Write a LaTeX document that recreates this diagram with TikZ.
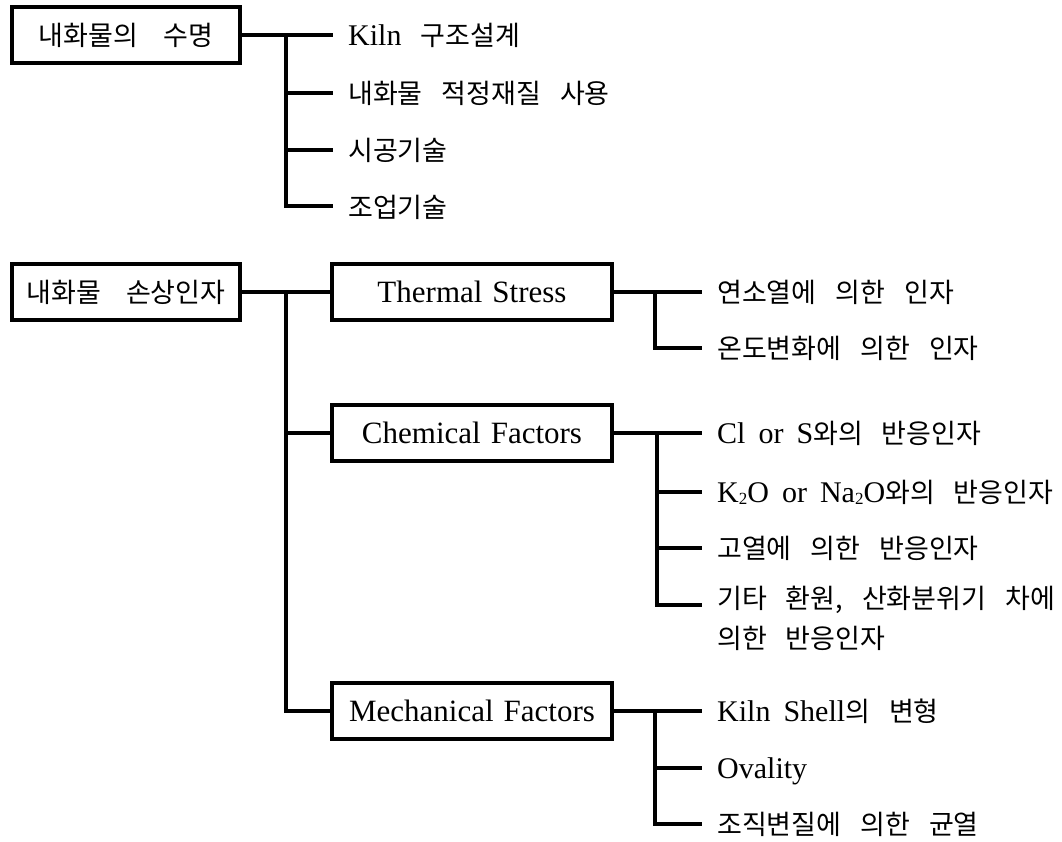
\documentclass[tikz,border=0pt]{standalone}
\usepackage{fontspec}
\setmainfont{Liberation Serif}
\newfontfamily\krfont{Noto Sans CJK KR}
\newfontfamily\latfont{Liberation Serif}
\newcommand{\KR}[1]{{\krfont\fontsize{27pt}{32pt}\selectfont #1}}
\newcommand{\LT}[1]{{\latfont\fontsize{30pt}{34pt}\selectfont #1}}
\newcommand{\LB}[1]{{\latfont\fontsize{31pt}{35pt}\selectfont #1}}
\newcommand{\kgap}{\hspace{19pt}}
\newcommand{\bgap}{\hspace{25pt}}
\newcommand{\lgap}{\hspace{13pt}}
\newcommand{\subtwo}{\raisebox{-2pt}{\fontsize{17pt}{17pt}\selectfont 2}}
\begin{document}
\begin{tikzpicture}[x=1pt,y=-1pt,
  box/.style={draw,line width=3.2pt,rectangle,inner sep=0pt,minimum height=56pt},
  conn/.style={line width=3.2pt,line join=miter},
  leaf/.style={anchor=base west,inner sep=0pt}]
\useasboundingbox[fill=white] (0,0) rectangle (1062,841);

% ---------- top group ----------
\node[box,minimum width=228pt] (life) at (126,35) {\KR{내화물의\bgap 수명}};
\coordinate (a0) at (286,35);
\coordinate (a1) at (286,93);
\coordinate (a2) at (286,150);
\coordinate (a3) at (286,206);
\coordinate (e0) at (333,35);
\coordinate (e1) at (333,93);
\coordinate (e2) at (333,150);
\coordinate (e3) at (333,206);
\node[leaf] (l1) at (348,45) {\LT{Kiln}\kgap\KR{구조설계}};
\node[leaf] (l2) at (348,103) {\KR{내화물\kgap 적정재질\kgap 사용}};
\node[leaf] (l3) at (348,160) {\KR{시공기술}};
\node[leaf] (l4) at (348,217) {\KR{조업기술}};
\draw[conn] (life.east) -- (e0);
\draw[conn] (a0) |- (e3);
\draw[conn] (a1) -- (e1);
\draw[conn] (a2) -- (e2);

% ---------- bottom group ----------
\node[box,minimum width=228pt] (dmg) at (126,292) {\KR{내화물\bgap 손상인자}};
\node[box,minimum width=280pt] (ts) at (472,292) {\LB{Thermal\hspace{10pt}Stress}};
\node[box,minimum width=280pt] (cf) at (472,433) {\LB{Chemical\hspace{10pt}Factors}};
\node[box,minimum width=280pt] (mf) at (472,711) {\LB{Mechanical\hspace{10pt}Factors}};
\coordinate (b0) at (286,292);
\coordinate (b1) at (286,433);
\coordinate (b2) at (286,711);
\draw[conn] (dmg.east) -- (ts.west);
\draw[conn] (b0) |- (mf.west);
\draw[conn] (b1) -- (cf.west);

% Thermal Stress
\coordinate (tj0) at (655,292);
\coordinate (tj1) at (655,348);
\coordinate (te0) at (702,292);
\coordinate (te1) at (702,348);
\node[leaf] (t1) at (717,302) {\KR{연소열에\kgap 의한\kgap 인자}};
\node[leaf] (t2) at (717,358) {\KR{온도변화에\kgap 의한\kgap 인자}};
\draw[conn] (ts.east) -- (te0);
\draw[conn] (tj0) |- (te1);

% Chemical Factors
\coordinate (cj0) at (657,433);
\coordinate (cj1) at (657,492);
\coordinate (cj2) at (657,548);
\coordinate (cj3) at (657,605);
\coordinate (ce0) at (702,433);
\coordinate (ce1) at (702,492);
\coordinate (ce2) at (702,548);
\coordinate (ce3) at (702,605);
\node[leaf] (c1) at (717,443) {\LT{Cl\lgap or\lgap S}\KR{와의\kgap 반응인자}};
\node[leaf] (c2) at (717,502) {\LT{K\subtwo O\lgap or\lgap Na\subtwo O}\KR{와의\kgap 반응인자}};
\node[leaf] (c3) at (717,558) {\KR{고열에\kgap 의한\kgap 반응인자}};
\node[leaf] (c4) at (717,608) {\KR{기타\kgap 환원,\kgap 산화분위기\kgap 차에}};
\node[leaf] (c5) at (717,648) {\KR{의한\kgap 반응인자}};
\draw[conn] (cf.east) -- (ce0);
\draw[conn] (cj0) |- (ce3);
\draw[conn] (cj1) -- (ce1);
\draw[conn] (cj2) -- (ce2);

% Mechanical Factors
\coordinate (mj0) at (655,711);
\coordinate (mj1) at (655,768);
\coordinate (mj2) at (655,824);
\coordinate (me0) at (702,711);
\coordinate (me1) at (702,768);
\coordinate (me2) at (702,824);
\node[leaf] (m1) at (717,721) {\LT{Kiln\lgap Shell}\KR{의\kgap 변형}};
\node[leaf] (m2) at (717,778) {\LT{Ovality}};
\node[leaf] (m3) at (717,834) {\KR{조직변질에\kgap 의한\kgap 균열}};
\draw[conn] (mf.east) -- (me0);
\draw[conn] (mj0) |- (me2);
\draw[conn] (mj1) -- (me1);
\end{tikzpicture}
\end{document}
